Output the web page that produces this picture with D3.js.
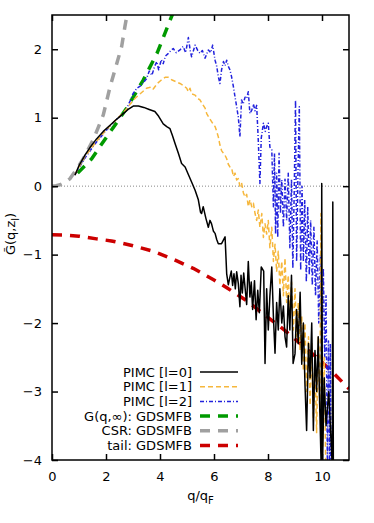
<!DOCTYPE html>
<html>
<head>
<meta charset="utf-8">
<script src="https://cdn.jsdelivr.net/npm/d3@7"></script>
<style>
  body { margin: 0; background: #fff; }
  text { font-family: "DejaVu Sans", sans-serif; font-size: 13px; fill: #000; }
</style>
</head>
<body>
<script>
// values, [q/qF, G]
var pimcL0 = [[0.85,0.16],[1.0,0.3],[1.2,0.44],[1.4,0.56],[1.65,0.69],[1.9,0.8],[2.15,0.89],[2.4,0.98],[2.64,1.06],[2.85,1.13],[3.01,1.17],[3.2,1.17],[3.4,1.15],[3.6,1.12],[3.81,1.09],[3.95,1.02],[4.12,0.91],[4.25,0.87],[4.37,0.84],[4.46,0.74],[4.56,0.62],[4.68,0.48],[4.8,0.33],[4.93,0.28],[5.05,0.17],[5.17,0.06],[5.3,-0.06],[5.42,-0.2],[5.5,-0.38],[5.54,-0.4],[5.6,-0.3],[5.7,-0.47],[5.79,-0.6],[5.85,-0.5],[5.91,-0.55],[5.98,-0.66],[6.04,-0.69],[6.1,-0.78],[6.16,-0.84],[6.28,-0.84],[6.41,-0.74],[6.47,-1.28],
  [6.53,-1.44],[6.59,-1.33],[6.64,-1.24],[6.69,-1.45],[6.74,-1.28],[6.79,-1.5],[6.84,-1.25],[6.9,-1.42],[6.96,-1.76],[7.0,-1.3],[7.05,-1.56],[7.1,-1.27],[7.15,-1.48],[7.21,-1.73],[7.27,-1.1],[7.33,-1.62],[7.38,-1.4],[7.43,-1.8],[7.5,-1.38],[7.56,-1.95],[7.62,-1.52],[7.68,-1.85],[7.75,-1.18],[7.84,-1.24],[7.89,-2.59],[7.95,-1.5],[8.01,-2.1],[8.07,-1.6],[8.14,-1.18],[8.2,-1.9],[8.26,-2.44],[8.32,-1.7],[8.38,-2.1],[8.44,-1.5],[8.51,-2.0],[8.57,-1.75],[8.63,-2.2],[8.69,-2.35],[8.75,-1.6],[8.81,-2.1],[8.87,-1.3],[8.93,-2.59],[9.0,-2.45],[9.06,-1.8],[9.12,-2.3],[9.19,-1.55],[9.25,-2.6],[9.31,-2.0],[9.37,-2.9],[9.43,-3.57],[9.5,-2.3],[9.56,-2.8],[9.62,-2.0],[9.68,-3.57],[9.74,-2.4],[9.8,-3.0],[9.86,-2.2],[9.92,-3.3],[9.97,-4.1],[9.99,0.04],[10.02,-4.1],[10.08,-2.8],[10.15,-3.5],[10.25,-3.0],[10.38,-4.1],[10.4,-0.23],[10.42,-4.1]];

var pimcL1 = [[0.85,0.17],[1.2,0.42],[1.6,0.63],[2.0,0.82],[2.4,0.98],[2.7,1.1],[2.9,1.2],[3.07,1.28],[3.3,1.36],[3.5,1.43],[3.6,1.44],[3.69,1.45],[3.75,1.42],[3.9,1.5],[4.05,1.55],[4.19,1.59],[4.31,1.59],[4.45,1.55],[4.62,1.52],[4.74,1.5],[4.86,1.47],[4.99,1.43],[5.05,1.38],[5.11,1.43],[5.17,1.35],[5.3,1.33],[5.4,1.28],[5.48,1.26],[5.57,1.2],[5.67,1.14],[5.73,1.06],[5.85,0.98],[5.98,0.9],[6.04,0.87],[6.1,0.8],[6.16,0.72],[6.22,0.6],[6.28,0.52],[6.35,0.48],[6.41,0.45],[6.47,0.4],[6.53,0.32],[6.59,0.28],[6.65,0.27],[6.72,0.14],[6.78,0.19],[6.84,0.09],[6.9,0.11],[6.96,0.0],[7.02,0.05],[7.09,-0.1],[7.15,-0.16],[7.21,-0.12],[7.27,-0.3],[7.33,-0.2],[7.4,-0.3],[7.46,-0.25],[7.52,-0.4],[7.58,-0.5],[7.64,-0.35],[7.7,-0.6],[7.77,-0.4],[7.83,-0.75],[7.89,-0.55],[7.95,-0.7],[8.01,-0.5],[8.07,-0.9],[8.14,-0.6],[8.2,-1.1],[8.26,-0.85],[8.32,-1.25],[8.38,-0.95],[8.44,-1.45],[8.51,-1.1],[8.57,-1.6],[8.63,-1.05],[8.69,-1.7],[8.75,-1.3],[8.81,-1.9],[8.87,-1.4],[8.94,-2.1],[9.0,-1.5],[9.06,-2.2],[9.12,-1.7],[9.19,-2.4],[9.25,-1.9],[9.31,-2.7],[9.37,-2.0],[9.43,-3.0],[9.5,-2.2],[9.56,-3.2],[9.62,-2.3],[9.68,-3.4],[9.74,-2.5],[9.8,-3.6],[9.86,-2.2],[9.92,-3.3],[9.96,-0.4],[10.02,-3.8],[10.08,-2.5],[10.14,-4.1]];

var pimcL2 = [[0.85,0.17],[1.2,0.4],[1.6,0.62],[2.0,0.81],[2.4,0.98],[2.7,1.08],[2.9,1.25],[3.0,1.35],[3.14,1.43],[3.3,1.47],[3.5,1.57],[3.6,1.68],[3.7,1.62],[3.8,1.75],[3.88,1.82],[3.95,1.7],[4.05,1.85],[4.12,1.79],[4.2,1.9],[4.31,1.94],[4.4,1.98],[4.49,2.01],[4.6,1.95],[4.74,1.99],[4.86,2.04],[4.95,1.95],[5.05,2.17],[5.12,1.98],[5.17,1.89],[5.3,2.06],[5.4,1.98],[5.48,1.94],[5.57,1.98],[5.67,1.87],[5.73,1.93],[5.79,1.99],[5.88,1.95],[5.95,2.06],[6.04,1.84],[6.1,1.75],[6.16,1.6],[6.22,1.5],[6.28,1.7],[6.35,1.82],[6.41,1.76],[6.47,1.84],[6.53,1.75],[6.59,1.7],[6.65,1.6],[6.72,1.45],[6.78,1.3],[6.84,1.16],[6.9,1.01],[6.96,0.72],[7.02,1.26],[7.08,1.2],[7.15,1.3],[7.21,1.28],[7.27,1.38],[7.33,1.06],[7.4,1.11],[7.46,1.2],[7.52,1.1],[7.58,1.18],
  [7.64,0.67],[7.7,0.04],[7.75,0.7],[7.83,0.92],[7.9,0.8],[7.95,0.87],[8.01,0.92],[8.07,0.57],[8.14,0.53],[8.2,-0.3],[8.24,0.48],[8.28,-0.7],[8.32,0.19],[8.36,-0.75],[8.41,0.48],[8.46,-0.4],[8.51,0.09],[8.57,-0.6],[8.63,0.1],[8.69,-0.5],[8.75,0.19],[8.81,-0.9],[8.87,0.1],[8.92,-1.2],[8.97,-0.1],[9.02,1.26],[9.06,-1.1],[9.11,0.2],[9.16,1.16],[9.21,-1.23],[9.26,0.0],[9.31,-1.1],[9.36,-0.2],[9.42,-1.4],[9.47,-0.3],[9.53,-1.3],[9.58,-0.5],[9.64,-1.45],[9.7,-0.6],[9.76,-1.6],[9.82,-0.8],[9.88,-2.0],[9.94,-1.0],[10.0,-2.2],[10.05,-1.2],[10.1,-2.5],[10.15,-1.6],[10.2,-4.1],[10.24,-2.26],[10.28,-4.1],[10.31,-2.3],[10.33,-4.1]];

var gInf = [[0.95,0.19],[1.47,0.4],[1.9,0.65],[2.33,0.89],[2.77,1.14],[3.38,1.55],[3.9,1.95],[4.45,2.5],[4.5,2.55]];
var csr = [[0,0],[0.15,0.005],[0.3,0.02],[0.5,0.06],[0.67,0.11],[0.9,0.24],[1.16,0.4],[1.53,0.68],[1.9,1.04],[2.15,1.45],[2.58,2.04],[2.7,2.33],[2.8,2.55]];
var tail = [[0,-0.71],[0.5,-0.715],[1.0,-0.73],[1.65,-0.77],[2.2,-0.8],[3.0,-0.87],[3.74,-0.95],[4.5,-1.07],[5.23,-1.2],[6.0,-1.37],[6.46,-1.48],[7.2,-1.67],[7.94,-1.9],[8.6,-2.1],[9.17,-2.29],[9.8,-2.5],[10.4,-2.72],[11.0,-2.96]];

var xTicks = [0, 2, 4, 6, 8, 10];
var yTicks = [-4, -3, -2, -1, 0, 1, 2];

var series = [
  { name: "PIMC [l=0]", data: pimcL0, color: "#000000", width: 1.5, dash: null },
  { name: "PIMC [l=1]", data: pimcL1, color: "#f6b73c", width: 1.5, dash: "5,3" },
  { name: "PIMC [l=2]", data: pimcL2, color: "#2222dd", width: 1.5, dash: "4,2,1,2" },
  { name: "G(q,\u221e): GDSMFB", data: gInf, color: "#009a00", width: 3.5, dash: "10,8" },
  { name: "CSR: GDSMFB", data: csr, color: "#a0a0a0", width: 3.5, dash: "10,8" },
  { name: "tail: GDSMFB", data: tail, color: "#cc0000", width: 3.5, dash: "10,8" }
];

var width = 374, height = 523;
var mLeft = 52, mRight = 349, mTop = 15, mBottom = 460;

var x = d3.scaleLinear().domain([0, 11]).range([mLeft, mRight]);
var y = d3.scaleLinear().domain([-4, 2.5]).range([mBottom, mTop]);

var svg = d3.select("body").append("svg")
  .attr("width", width)
  .attr("height", height);

svg.append("defs").append("clipPath").attr("id", "clip")
  .append("rect")
  .attr("x", mLeft).attr("y", mTop)
  .attr("width", mRight - mLeft).attr("height", mBottom - mTop);

// zero line
svg.append("line")
  .attr("x1", x(0)).attr("x2", x(11))
  .attr("y1", y(0)).attr("y2", y(0))
  .attr("stroke", "#888").attr("stroke-width", 1)
  .attr("stroke-dasharray", "1,2");

var line = d3.line()
  .x(function (d) { return x(d[0]) })
  .y(function (d) { return y(d[1]) });

var plot = svg.append("g").attr("clip-path", "url(#clip)");

// draw in reverse so that PIMC l=0 is on top
series.slice().reverse().forEach(function (s) {
  plot.append("path")
    .datum(s.data)
    .attr("d", line)
    .attr("fill", "none")
    .attr("stroke", s.color)
    .attr("stroke-width", s.width)
    .attr("stroke-dasharray", s.dash)
    .attr("stroke-linejoin", "round");
});

// axes, ticks inward on all sides
var tickLen = 6;
var fmt = d3.format("d");
var axisB = svg.append("g").attr("transform", "translate(0," + mBottom + ")")
  .call(d3.axisBottom(x).tickValues(xTicks).tickFormat(fmt).tickSizeInner(-tickLen).tickSizeOuter(0).tickPadding(12));
var axisT = svg.append("g").attr("transform", "translate(0," + mTop + ")")
  .call(d3.axisTop(x).tickValues(xTicks).tickSizeInner(-tickLen).tickSizeOuter(0).tickFormat(""));
var axisL = svg.append("g").attr("transform", "translate(" + mLeft + ",0)")
  .call(d3.axisLeft(y).tickValues(yTicks).tickFormat(fmt).tickSizeInner(-tickLen).tickSizeOuter(0).tickPadding(10));
var axisR = svg.append("g").attr("transform", "translate(" + mRight + ",0)")
  .call(d3.axisRight(y).tickValues(yTicks).tickSizeInner(-tickLen).tickSizeOuter(0).tickFormat(""));

[axisB, axisT, axisL, axisR].forEach(function (a) {
  a.select(".domain").remove();
  a.selectAll(".tick line").attr("stroke", "#000").attr("stroke-width", 1.5);
  a.selectAll(".tick text")
    .style("font-family", "DejaVu Sans, sans-serif")
    .style("font-size", "13px")
    .attr("fill", "#000");
});

svg.append("rect")
  .attr("x", mLeft).attr("y", mTop)
  .attr("width", mRight - mLeft).attr("height", mBottom - mTop)
  .attr("fill", "none").attr("stroke", "#000").attr("stroke-width", 1.5);

// axis labels
var xl = svg.append("text")
  .attr("x", (mLeft + mRight) / 2).attr("y", 500)
  .attr("text-anchor", "middle");
xl.append("tspan").text("q/q");
xl.append("tspan").attr("dy", 4).style("font-size", "10px").text("F");

var yl = svg.append("text")
  .attr("transform", "translate(15,234) rotate(-90)")
  .attr("text-anchor", "middle");
yl.append("tspan").text("G\u0303(q,z");
yl.append("tspan").attr("dy", 4).style("font-size", "10px").text("l");
yl.append("tspan").attr("dy", -4).text(")");

// legend
var legend = svg.append("g");
series.forEach(function (s, i) {
  var ly = 372 + i * 14.7;
  legend.append("text")
    .attr("x", 192).attr("y", ly + 4.5)
    .attr("text-anchor", "end")
    .text(s.name);
  legend.append("line")
    .attr("x1", 200).attr("x2", 238)
    .attr("y1", ly).attr("y2", ly)
    .attr("stroke", s.color)
    .attr("stroke-width", s.width)
    .attr("stroke-dasharray", s.dash);
});
</script>
</body>
</html>
